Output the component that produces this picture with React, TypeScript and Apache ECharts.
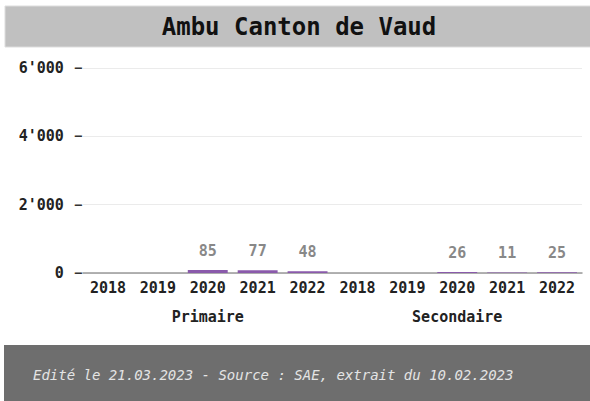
import React, { useEffect, useRef } from "react";
import * as echarts from "echarts";

const years = ["2018", "2019", "2020", "2021", "2022"];
const groups = ["Primaire", "Secondaire"];
const primaire: (number | null)[] = [null, null, 85, 77, 48];
const secondaire: (number | null)[] = [null, null, 26, 11, 25];
const yTicks = [0, 2000, 4000, 6000];
const titleText = "Ambu Canton de Vaud";
const footerText = "Edité le 21.03.2023 - Source : SAE, extrait du 10.02.2023";

const MONO = "'DejaVu Sans Mono', 'Liberation Mono', monospace";

export default function App() {
  const ref = useRef<HTMLDivElement>(null);
  useEffect(() => {
    document.body.style.margin = "0";
    const chart = echarts.init(ref.current!, null, { renderer: "svg" });
    const categories = [...years, ...years];
    const values = [...primaire, ...secondaire];
    chart.setOption({
      animation: false,
      backgroundColor: "#ffffff",
      graphic: [
        {
          type: "rect",
          shape: { x: 5, y: 6, width: 590, height: 41 },
          style: { fill: "#c0c0c0", stroke: "#dddddd", lineWidth: 1 },
        },
        {
          type: "text",
          x: 299,
          y: 27,
          style: {
            text: titleText,
            fill: "#111111",
            font: `bold 24px ${MONO}`,
            align: "center",
            verticalAlign: "middle",
          },
        },
        {
          type: "rect",
          shape: { x: 4, y: 345, width: 590, height: 60 },
          style: { fill: "#6e6e6e" },
        },
        {
          type: "text",
          x: 33,
          y: 375,
          style: {
            text: footerText,
            fill: "#e4e4e4",
            font: `italic 14px ${MONO}`,
            align: "left",
            verticalAlign: "middle",
          },
        },
      ],
      grid: { left: 83, right: 8, top: 68, bottom: 128 },
      xAxis: [
        {
          type: "category",
          data: categories,
          position: "bottom",
          axisTick: { show: false },
          axisLine: { show: true, lineStyle: { color: "#999999", width: 1.5 } },
          axisLabel: {
            color: "#222222",
            fontFamily: MONO,
            fontWeight: "bold",
            fontSize: 15,
            margin: 7,
            interval: 0,
          },
        },
        {
          type: "category",
          data: groups,
          position: "bottom",
          offset: 29,
          axisTick: { show: false },
          axisLine: { show: false },
          axisLabel: {
            color: "#222222",
            fontFamily: MONO,
            fontWeight: "bold",
            fontSize: 15,
            margin: 7,
            interval: 0,
          },
        },
      ],
      yAxis: {
        type: "value",
        min: yTicks[0],
        max: yTicks[yTicks.length - 1],
        interval: 2000,
        axisLine: { show: false },
        axisTick: { show: false },
        splitLine: { lineStyle: { color: "#ebebeb", width: 1 } },
        axisLabel: {
          color: "#222222",
          fontFamily: MONO,
          fontWeight: "bold",
          fontSize: 15,
          margin: 1,
          formatter: (v: number) =>
            "{v|" + String(v).replace(/\B(?=(\d{3})+(?!\d))/g, "'") + "}{s| }{t|–}",
          rich: {
            v: { fontFamily: MONO, fontWeight: "bold", fontSize: 15, color: "#222222" },
            s: { width: 11, fontSize: 15 },
            t: { fontFamily: MONO, fontWeight: "bold", fontSize: 12, color: "#333333" },
          },
        },
      },
      series: [
        {
          type: "bar",
          xAxisIndex: 0,
          data: values,
          barWidth: "80%",
          itemStyle: { color: "#8a5aab" },
          label: {
            show: true,
            position: "top",
            distance: 12,
            color: "#888888",
            fontFamily: MONO,
            fontWeight: "bold",
            fontSize: 15,
            formatter: (p: any) => (p.value == null ? "" : String(p.value)),
          },
        },
      ],
    });
    return () => chart.dispose();
  }, []);
  return <div ref={ref} style={{ width: 590, height: 401 }} />;
}
